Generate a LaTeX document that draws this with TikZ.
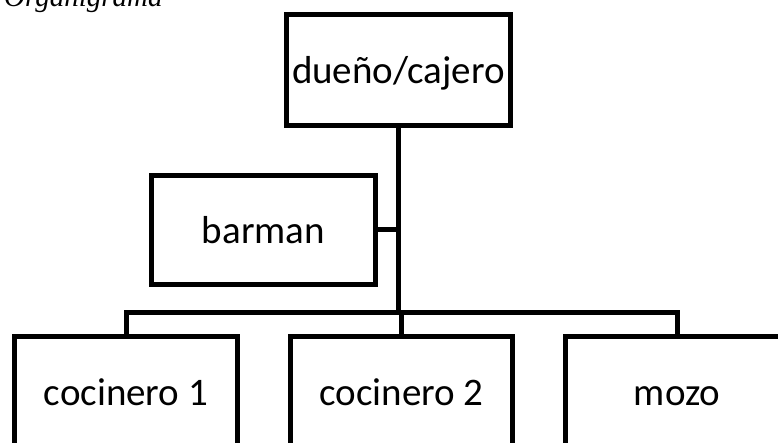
\documentclass[tikz,border=0pt]{standalone}
\usepackage{fontspec}
\setmainfont{Carlito}
\newfontfamily\titlefont{Liberation Serif}
\begin{document}
\begin{tikzpicture}[x=1pt,y=-1pt,
  orgbox/.style={draw=black, line width=5pt, fill=white, minimum width=224pt,
    minimum height=110pt, inner sep=0pt, text height=28pt, text depth=0pt,
    font=\fontsize{39}{47}\selectfont},
  link/.style={draw=black, line width=5pt, line join=miter}]
\useasboundingbox (0,0) rectangle (778,443);
\clip (0,0) rectangle (778,443);
\fill[white] (0,0) rectangle (778,443);

% page caption, partly above the visible area
\node[anchor=base west, inner sep=0pt, font=\titlefont\itshape\fontsize{29}{35}\selectfont] (title) at (4,7) {Organigrama};

% boxes
\node[orgbox, minimum height=111pt] (boss) at (398.5,70) {dueño/cajero};
\node[orgbox, minimum height=109pt] (barman) at (263.5,230) {barman};
\node[orgbox, minimum width=223pt] (c1) at (126,391) {cocinero 1};
\node[orgbox, minimum width=222pt] (c2) at (401.5,391) {cocinero 2};
\node[orgbox, minimum width=223pt] (mozo) at (677,391) {mozo};

% connectors
\coordinate (bus) at (398.5,312);
\draw[link] (boss.south) -- (bus);
\draw[link] (barman.east) -- (barman.east -| boss.south);
\draw[link] (c1.north) -- (c1.north |- bus) -- (mozo.north |- bus) -- (mozo.north);
\draw[link] (c2.north) -- (c2.north |- bus);
\end{tikzpicture}
\end{document}
